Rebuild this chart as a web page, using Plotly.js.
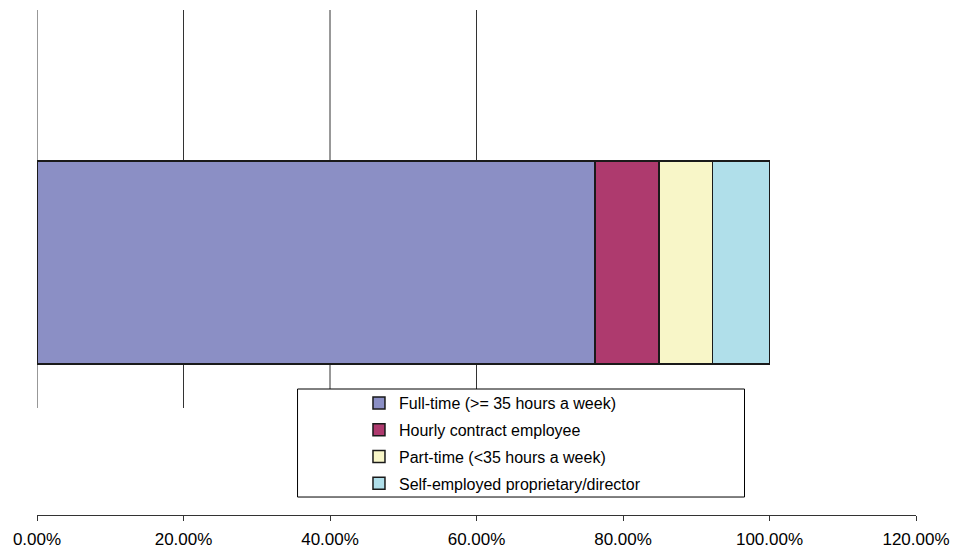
<!DOCTYPE html>
<html>
<head>
<meta charset="utf-8">
<script src="https://cdn.plot.ly/plotly-3.0.1.min.js"></script>
<style>html,body{margin:0;padding:0;background:#fff;}#chart{width:962px;height:551px;}</style>
</head>
<body>
<div id="chart"></div>
<script>
const categories = ['Employment status'];
const seriesNames = [
  'Full-time (>= 35 hours a week)',
  'Hourly contract employee',
  'Part-time (<35 hours a week)',
  'Self-employed proprietary/director'
];
const fullTime = [0.762];
const hourlyContract = [0.087];
const partTime = [0.073];
const selfEmployed = [0.078];
const seriesValues = [fullTime, hourlyContract, partTime, selfEmployed];
const seriesColors = ['#8B8FC5', '#AE3A6E', '#F8F6C8', '#B0DFEA'];
const tickValues = [0, 0.2, 0.4, 0.6, 0.8, 1.0, 1.2];
const gridValues = [0, 0.2, 0.4, 0.6];

const traces = seriesNames.map((name, i) => ({
  type: 'bar',
  orientation: 'h',
  name: name,
  legendgroup: 'g' + i,
  x: seriesValues[i],
  y: categories,
  marker: {color: seriesColors[i], line: {color: '#1a1a1a', width: 1.5}},
  hoverinfo: 'x+name'
}));

const shapes = gridValues.map(v => ({
  type: 'line', xref: 'x', yref: 'paper',
  x0: v, x1: v, y0: 0.2119, y1: 1,
  line: {color: '#333333', width: 1}, layer: 'below'
}));
shapes.push({
  type: 'rect', xref: 'paper', yref: 'paper',
  x0: 0.2964, x1: 0.8049, y0: 0.0356, y1: 0.2495,
  fillcolor: '#ffffff', line: {color: '#000000', width: 1}, layer: 'above'
});

const layout = {
  width: 962, height: 551,
  margin: {l: 37, r: 46, t: 10, b: 36},
  paper_bgcolor: '#ffffff', plot_bgcolor: '#ffffff',
  barmode: 'stack',
  bargap: 0.598,
  showlegend: true,
  font: {family: 'Liberation Sans, Arial, sans-serif', color: '#000000'},
  xaxis: {
    range: [0, 1.2], tickvals: tickValues, tickformat: '.2%',
    showgrid: false, zeroline: false,
    showline: true, linecolor: '#333333', linewidth: 1,
    ticks: 'outside', ticklen: 5, tickcolor: '#333333',
    ticklabelstandoff: 4,
    tickfont: {size: 17, family: 'Liberation Sans, Arial, sans-serif', color: '#000000'},
    fixedrange: true
  },
  yaxis: {visible: false, range: [-0.5, 0.5], fixedrange: true},
  legend: {
    x: 0.3663, y: 0.2554, xanchor: 'left', yanchor: 'top',
    xref: 'paper', yref: 'paper',
    bgcolor: 'rgba(0,0,0,0)', borderwidth: 0,
    traceorder: 'grouped', tracegroupgap: 3,
    font: {size: 16, family: 'Liberation Sans, Arial, sans-serif', color: '#000000'}
  },
  shapes: shapes
};

Plotly.newPlot('chart', traces, layout, {displayModeBar: false, staticPlot: true});
</script>
</body>
</html>
